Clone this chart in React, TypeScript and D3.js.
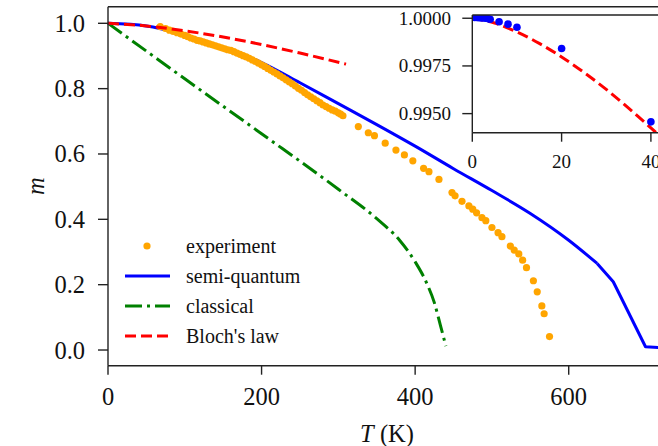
import React from 'react';
import * as d3 from 'd3';

// Magnetization vs temperature: experiment, semi-quantum and classical simulations, Bloch's law
const expT = [68, 75, 80, 85, 90, 95, 100, 104, 108, 112, 116, 120, 124, 128, 132, 136, 140, 144, 148, 152, 156, 160, 164, 168, 172, 176, 180, 184, 188, 192, 196, 200, 204, 208, 212, 216, 220, 224, 228, 232, 236, 240, 244, 248, 252, 256, 260, 264, 268, 272, 276, 280, 284, 288, 292, 296, 300, 303, 306,
  326, 339, 347, 361, 375, 386, 397, 411, 418, 431, 448, 452, 461, 470, 475, 480, 487, 492, 500, 508, 513, 524, 529, 535, 540, 545, 554, 559, 565, 568, 575];
const expM = [0.990, 0.984, 0.979, 0.975, 0.971, 0.967, 0.963, 0.959, 0.955, 0.952, 0.948, 0.946, 0.943, 0.940, 0.937, 0.934, 0.931, 0.928, 0.925, 0.922, 0.919, 0.917, 0.913, 0.909, 0.905, 0.901, 0.897, 0.893, 0.888, 0.883, 0.878, 0.873, 0.868, 0.862, 0.856, 0.851, 0.845, 0.839, 0.833, 0.827, 0.821, 0.815, 0.808, 0.801, 0.795, 0.788, 0.781, 0.775, 0.769, 0.763, 0.757, 0.750, 0.745, 0.740, 0.735, 0.731, 0.726, 0.722, 0.717,
  0.684, 0.665, 0.656, 0.633, 0.612, 0.597, 0.579, 0.556, 0.546, 0.522, 0.482, 0.472, 0.455, 0.441, 0.431, 0.420, 0.405, 0.396, 0.375, 0.359, 0.347, 0.318, 0.306, 0.294, 0.275, 0.252, 0.212, 0.178, 0.135, 0.111, 0.041];

// Semi-quantum simulation: smooth below 637 K, coarse steps above
const semiT = [0, 50, 100, 150, 200, 250, 300, 350, 400, 450, 500, 550, 600, 637];
const semiM = [1.0, 0.992, 0.964, 0.926, 0.880, 0.818, 0.754, 0.690, 0.624, 0.555, 0.488, 0.418, 0.336, 0.265];
const semiHighT = [637, 658, 700, 730];
const semiHighM = [0.265, 0.209, 0.010, 0.006];

const classT = [0, 100, 200, 300, 350, 380, 400, 415, 425, 433, 440];
const classM = [1.0, 0.830, 0.662, 0.492, 0.402, 0.335, 0.270, 0.205, 0.145, 0.075, 0.012];

const blochT = [0, 50, 100, 150, 200, 250, 310];
const blochM = [1.0, 0.9919, 0.977, 0.958, 0.935, 0.909, 0.875];

// Low-temperature detail
const lowExpT = [0.5, 1, 1.5, 2, 2.5, 3, 3.5, 4, 6, 8, 10, 20, 40];
const lowExpM = [1.00004, 1.00004, 1.00003, 1.00002, 1.00001, 1.0, 0.99998, 0.99995, 0.99982, 0.99969, 0.99953, 0.99841, 0.99457];
const lowBlochT = [0, 5, 10, 15, 20, 25, 30, 35, 40, 42];
const lowBlochM = [1.0, 0.99975, 0.99928, 0.99868, 0.99797, 0.99716, 0.99627, 0.99529, 0.99425, 0.99382];

const xTicks = [0, 200, 400, 600];
const yTicks = [0, 0.2, 0.4, 0.6, 0.8, 1.0];
const insetXTicks = [0, 20, 40];
const insetYTicks = [0.995, 0.9975, 1.0];

const legendItems = ['experiment', 'semi-quantum', 'classical', "Bloch's law"];

const FONT = '"Liberation Serif", "Times New Roman", serif';
const SPINE = '#222';

export default function App() {
  const x = d3.scaleLinear().domain([0, 728]).range([108, 667]);
  const y = d3.scaleLinear().domain([-0.048, 1.0508]).range([365.7, 6.7]);
  const xi = d3.scaleLinear().domain([0, 45]).range([472.3, 472.3 + 45 * 4.465]);
  const yi = d3.scaleLinear().domain([0.994, 1.00017]).range([132.7, 15]);

  const line = d3.line<[number, number]>().x(d => x(d[0])).y(d => y(d[1]));
  const smooth = d3.line<[number, number]>().x(d => x(d[0])).y(d => y(d[1])).curve(d3.curveMonotoneX);
  const lineI = d3.line<[number, number]>().x(d => xi(d[0])).y(d => yi(d[1])).curve(d3.curveMonotoneX);

  const zip = (a: number[], b: number[]) => a.map((v, i) => [v, b[i]] as [number, number]);

  const left = x.range()[0];
  const right = 700;
  const top = y.range()[1];
  const bottom = y.range()[0];

  const iLeft = xi.range()[0];
  const iTop = yi.range()[1];
  const iBottom = yi.range()[0];

  const legendRows = [246, 276, 306, 336];

  return (
    <svg width={658} height={446} style={{ position: 'absolute', left: 0, top: 0, background: '#fff' }}
      fontFamily={FONT}>
      <rect x={0} y={0} width={658} height={446} fill="#fff" />
      {/* main curves */}
      <path d={smooth(zip(classT, classM)) || ''} fill="none" stroke="green" strokeWidth={3}
        strokeDasharray="17 5 3 5" />
      <path d={smooth(zip(semiT, semiM)) || ''} fill="none" stroke="blue" strokeWidth={3} strokeLinejoin="round" />
      <path d={line(zip(semiHighT, semiHighM)) || ''} fill="none" stroke="blue" strokeWidth={3} strokeLinejoin="round" />
      {expT.map((t, i) => (
        <circle key={i} cx={x(t)} cy={y(expM[i])} r={3.6} fill="orange" />
      ))}
      <path d={smooth(zip(blochT, blochM)) || ''} fill="none" stroke="red" strokeWidth={3}
        strokeDasharray="11 5" />

      {/* main axes */}
      <line x1={left} x2={right} y1={top} y2={top} stroke={SPINE} strokeWidth={1.4} />
      <line x1={left} x2={right} y1={bottom} y2={bottom} stroke={SPINE} strokeWidth={1.4} />
      <line x1={left} x2={left} y1={top} y2={bottom} stroke={SPINE} strokeWidth={1.4} />
      {xTicks.map(t => (
        <g key={t}>
          <line x1={x(t)} x2={x(t)} y1={bottom} y2={bottom + 9} stroke={SPINE} strokeWidth={1.4} />
          <text x={x(t)} y={405} textAnchor="middle" fontSize={24.5} fill="#111">{t}</text>
        </g>
      ))}
      {yTicks.map(t => (
        <g key={t}>
          <line x1={left - 10} x2={left} y1={y(t)} y2={y(t)} stroke={SPINE} strokeWidth={1.4} />
          <text x={85} y={y(t) + 8.5} textAnchor="end" fontSize={24.5} fill="#111">{t.toFixed(1)}</text>
        </g>
      ))}
      <text x={387} y={442} textAnchor="middle" fontSize={24.5} fill="#111">
        <tspan fontStyle="italic">T</tspan>
        <tspan> (K)</tspan>
      </text>
      <text transform={`translate(44, ${(top + bottom) / 2}) rotate(-90)`} textAnchor="middle"
        fontSize={24.5} fontStyle="italic" fill="#111">m</text>

      {/* legend */}
      <circle cx={147} cy={legendRows[0]} r={3.6} fill="orange" />
      <line x1={125} x2={170} y1={legendRows[1]} y2={legendRows[1]} stroke="blue" strokeWidth={3} />
      <line x1={125} x2={170} y1={legendRows[2]} y2={legendRows[2]} stroke="green" strokeWidth={3}
        strokeDasharray="17 5 3 5" />
      <line x1={125} x2={170} y1={legendRows[3]} y2={legendRows[3]} stroke="red" strokeWidth={3}
        strokeDasharray="11 5" />
      {legendItems.map((s, i) => (
        <text key={s} x={186} y={legendRows[i] + 7} fontSize={20} fill="#111">{s}</text>
      ))}

      {/* inset */}
      <defs>
        <clipPath id="insetClip">
          <rect x={iLeft} y={iTop} width={300} height={iBottom - iTop} />
        </clipPath>
      </defs>
      <rect x={iLeft} y={iTop} width={300} height={iBottom - iTop} fill="#fff" />
      <g clipPath="url(#insetClip)">
        <path d={lineI(zip(lowBlochT, lowBlochM)) || ''} fill="none" stroke="red" strokeWidth={3}
          strokeDasharray="11 5" />
        {lowExpT.map((t, i) => (
          <circle key={i} cx={xi(t)} cy={yi(lowExpM[i])} r={3.8} fill="blue" />
        ))}
      </g>
      <line x1={iLeft} x2={700} y1={iTop} y2={iTop} stroke={SPINE} strokeWidth={1.4} />
      <line x1={iLeft} x2={700} y1={iBottom} y2={iBottom} stroke={SPINE} strokeWidth={1.4} />
      <line x1={iLeft} x2={iLeft} y1={iTop} y2={iBottom} stroke={SPINE} strokeWidth={1.4} />
      {insetXTicks.map(t => (
        <g key={t}>
          <line x1={xi(t)} x2={xi(t)} y1={iBottom} y2={iBottom + 9} stroke={SPINE} strokeWidth={1.4} />
          <text x={xi(t)} y={167.5} textAnchor="middle" fontSize={19} fill="#111">{t}</text>
        </g>
      ))}
      {insetYTicks.map(t => (
        <g key={t}>
          <line x1={iLeft - 10} x2={iLeft} y1={yi(t)} y2={yi(t)} stroke={SPINE} strokeWidth={1.4} />
          <text x={451} y={yi(t) + 6.5} textAnchor="end" fontSize={19} fill="#111">{t.toFixed(4)}</text>
        </g>
      ))}
    </svg>
  );
}
